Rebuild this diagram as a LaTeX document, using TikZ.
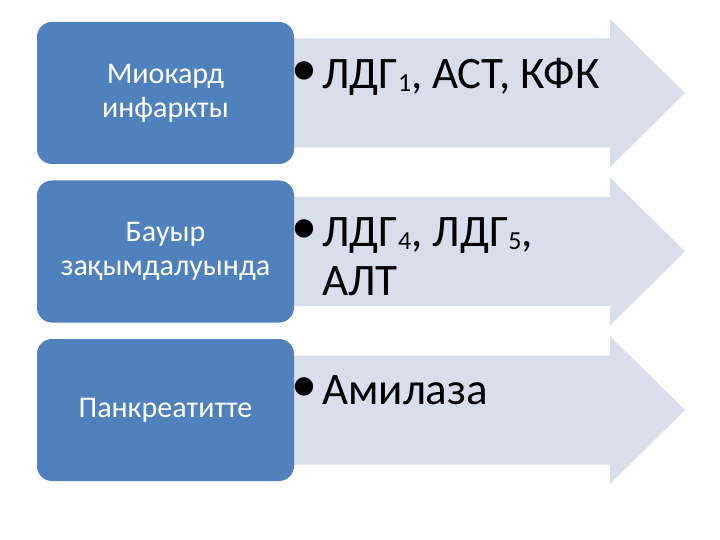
\documentclass[tikz,border=0pt]{standalone}
\usepackage{fontspec}
\setmainfont{Carlito}
\usetikzlibrary{positioning}
\definecolor{boxblue}{RGB}{79,129,189}
\definecolor{arrowfill}{RGB}{217,222,236}
\newcommand{\enzsub}[1]{\raisebox{-3pt}{\fontsize{26}{26}\selectfont #1}}
\newcommand{\itembullet}{\rlap{\hspace*{-8pt}\raisebox{3pt}{\fontsize{52}{52}\selectfont •}}\hspace*{23pt}}
\begin{document}
\begin{tikzpicture}[x=1pt, y=-1pt,
    catbox/.style={fill=boxblue, rounded corners=15pt, minimum width=257pt,
      minimum height=142pt, inner sep=0pt, align=center, text=white,
      font=\fontsize{30}{34}\selectfont},
    itemtext/.style={anchor=base west, inner sep=0pt, align=left,
      font=\fontsize{45}{49}\selectfont}]
    \useasboundingbox (0,0) rectangle (720,540);

    % Arrows
    \fill[arrowfill] (280,38.5) -- (610,38.5) -- (610,19) -- (685,93)
        -- (610,167) -- (610,147.5) -- (280,147.5) -- cycle;
    \fill[arrowfill] (280,197) -- (610,197) -- (610,177.5) -- (685,251.5)
        -- (610,325.5) -- (610,306) -- (280,306) -- cycle;
    \fill[arrowfill] (280,355.5) -- (610,355.5) -- (610,336) -- (685,410)
        -- (610,484) -- (610,464.5) -- (280,464.5) -- cycle;

    % Category boxes
    \node[catbox] (infarct) at (165.5,93) {Миокард\\инфаркты};
    \node[catbox] (liver) at (165.5,251.5) {Бауыр\\зақымдалуында};
    \node[catbox] (pancreas) at (165.5,410) {Панкреатитте};

    % Enzyme lists (base = last line)
    \node[itemtext] (infarctitems) at (299,89)
        {\itembullet ЛДГ\enzsub{1}, АСТ, КФК};
    \node[itemtext] (liveritems) at (299,295)
        {\itembullet ЛДГ\enzsub{4}, ЛДГ\enzsub{5},\\
         \hspace*{23pt}АЛТ};
    \node[itemtext] (pancreasitems) at (299,404)
        {\itembullet Амилаза};

\end{tikzpicture}
\end{document}
